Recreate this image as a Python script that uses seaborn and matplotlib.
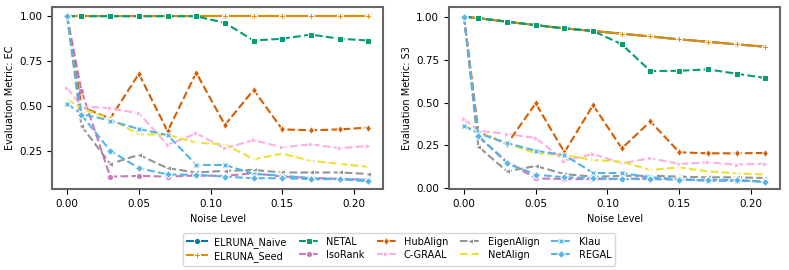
import numpy as np
import seaborn as sns
import matplotlib.pyplot as plt

noise = [0.0, 0.01, 0.03, 0.05, 0.07, 0.09, 0.11, 0.13, 0.15, 0.17, 0.19, 0.21]

# Evaluation metric EC (left panel)
ec_naive = [1.0] * 12
ec_seed = [1.0] * 12
ec_netal = [1.0, 1.0, 1.0, 1.0, 1.0, 1.0, 0.963, 0.865, 0.875, 0.898, 0.875, 0.865]
ec_isorank = [1.0, 0.585, 0.107, 0.111, 0.107, 0.113, 0.111, 0.126, 0.107, 0.100, 0.094, 0.089]
ec_hubalign = [1.0, 0.496, 0.43, 0.68, 0.36, 0.685, 0.395, 0.59, 0.37, 0.365, 0.37, 0.38]
ec_cgraal = [0.60, 0.50, 0.487, 0.46, 0.283, 0.348, 0.265, 0.31, 0.27, 0.287, 0.265, 0.278]
ec_eigen = [1.0, 0.389, 0.178, 0.228, 0.154, 0.13, 0.139, 0.144, 0.13, 0.13, 0.13, 0.122]
ec_netalign = [0.537, 0.487, 0.428, 0.343, 0.34, 0.296, 0.287, 0.204, 0.235, 0.195, 0.178, 0.161]
ec_klau = [0.513, 0.456, 0.419, 0.372, 0.339, 0.172, 0.172, 0.122, 0.113, 0.098, 0.094, 0.089]
ec_regal = [1.0, 0.45, 0.252, 0.154, 0.119, 0.117, 0.107, 0.098, 0.098, 0.093, 0.093, 0.08]

# Evaluation metric S3 (right panel)
s3_naive = [1.0, 0.992, 0.971, 0.951, 0.932, 0.917, 0.901, 0.885, 0.868, 0.854, 0.839, 0.825]
s3_seed = [1.0, 0.992, 0.971, 0.951, 0.932, 0.917, 0.901, 0.885, 0.868, 0.854, 0.839, 0.825]
s3_netal = [1.0, 0.992, 0.971, 0.951, 0.932, 0.917, 0.839, 0.683, 0.685, 0.693, 0.668, 0.643]
s3_isorank = [1.0, 0.30, 0.155, 0.058, 0.054, 0.054, 0.054, 0.06, 0.05, 0.045, 0.045, 0.041]
s3_hubalign = [1.0, 0.33, 0.258, 0.495, 0.21, 0.485, 0.233, 0.39, 0.21, 0.204, 0.204, 0.206]
s3_cgraal = [0.402, 0.336, 0.317, 0.293, 0.161, 0.20, 0.146, 0.175, 0.142, 0.151, 0.138, 0.144]
s3_eigen = [1.0, 0.243, 0.099, 0.13, 0.083, 0.068, 0.072, 0.074, 0.068, 0.064, 0.064, 0.06]
s3_netalign = [0.365, 0.33, 0.262, 0.204, 0.194, 0.165, 0.155, 0.107, 0.122, 0.099, 0.087, 0.08]
s3_klau = [0.363, 0.32, 0.264, 0.219, 0.194, 0.089, 0.089, 0.064, 0.054, 0.045, 0.045, 0.041]
s3_regal = [1.0, 0.307, 0.146, 0.08, 0.064, 0.06, 0.054, 0.054, 0.05, 0.049, 0.049, 0.035]

methods = ['ELRUNA_Naive', 'ELRUNA_Seed', 'NETAL', 'IsoRank', 'HubAlign',
           'C-GRAAL', 'EigenAlign', 'NetAlign', 'Klau', 'REGAL']
ec_data = [ec_naive, ec_seed, ec_netal, ec_isorank, ec_hubalign,
           ec_cgraal, ec_eigen, ec_netalign, ec_klau, ec_regal]
s3_data = [s3_naive, s3_seed, s3_netal, s3_isorank, s3_hubalign,
           s3_cgraal, s3_eigen, s3_netalign, s3_klau, s3_regal]

cb = sns.color_palette('colorblind')
colors = [cb[0], cb[1], cb[2], cb[4], cb[3], cb[6], cb[7], cb[8], cb[9], cb[9]]
markers = ['o', 'P', 's', 'o', 'd', '>', '<', 'x', 'X', 'D']
styles = ['-', '-', '--', '--', '--', '--', '--', '--', '--', '--']

plt.rcParams['axes.edgecolor'] = '#666666'
plt.rcParams['axes.linewidth'] = 1.5

fig = plt.figure(figsize=(7.89, 2.70), dpi=100)
ax1 = fig.add_axes([0.066, 0.30, 0.42, 0.673])
ax2 = fig.add_axes([0.569, 0.30, 0.42, 0.673])

for ax, data, metric in [(ax1, ec_data, 'EC'), (ax2, s3_data, 'S3')]:
    for name, vals, c, m, ls in zip(methods, data, colors, markers, styles):
        sns.lineplot(x=noise, y=vals, ax=ax, color=c, marker=m, linestyle=ls,
                     linewidth=1.5, markersize=4.5, label=name, legend=False)
    ax.set_xlabel('Noise Level', fontsize=7)
    ax.set_ylabel('Evaluation Metric: ' + metric, fontsize=7, labelpad=3)
    ax.set_xticks([0.0, 0.05, 0.10, 0.15, 0.20])
    ax.set_xticklabels(['0.00', '0.05', '0.10', '0.15', '0.20'])
    ax.tick_params(labelsize=7.5)
    ax.set_xlim(-0.0105, 0.2205)

ax1.set_yticks([0.25, 0.50, 0.75, 1.00])
ax1.set_ylim(0.038, 1.05)
ax2.set_yticks([0.00, 0.25, 0.50, 0.75, 1.00])
ax2.set_ylim(-0.004, 1.055)

handles, labels = ax1.get_legend_handles_labels()
fig.legend(handles, labels, loc='upper center', bbox_to_anchor=(0.506, 0.155),
           ncol=5, fontsize=7, frameon=True, handlelength=2.0,
           columnspacing=1.25, borderpad=0.4, labelspacing=0.3)

plt.savefig('out.png', dpi=100)
